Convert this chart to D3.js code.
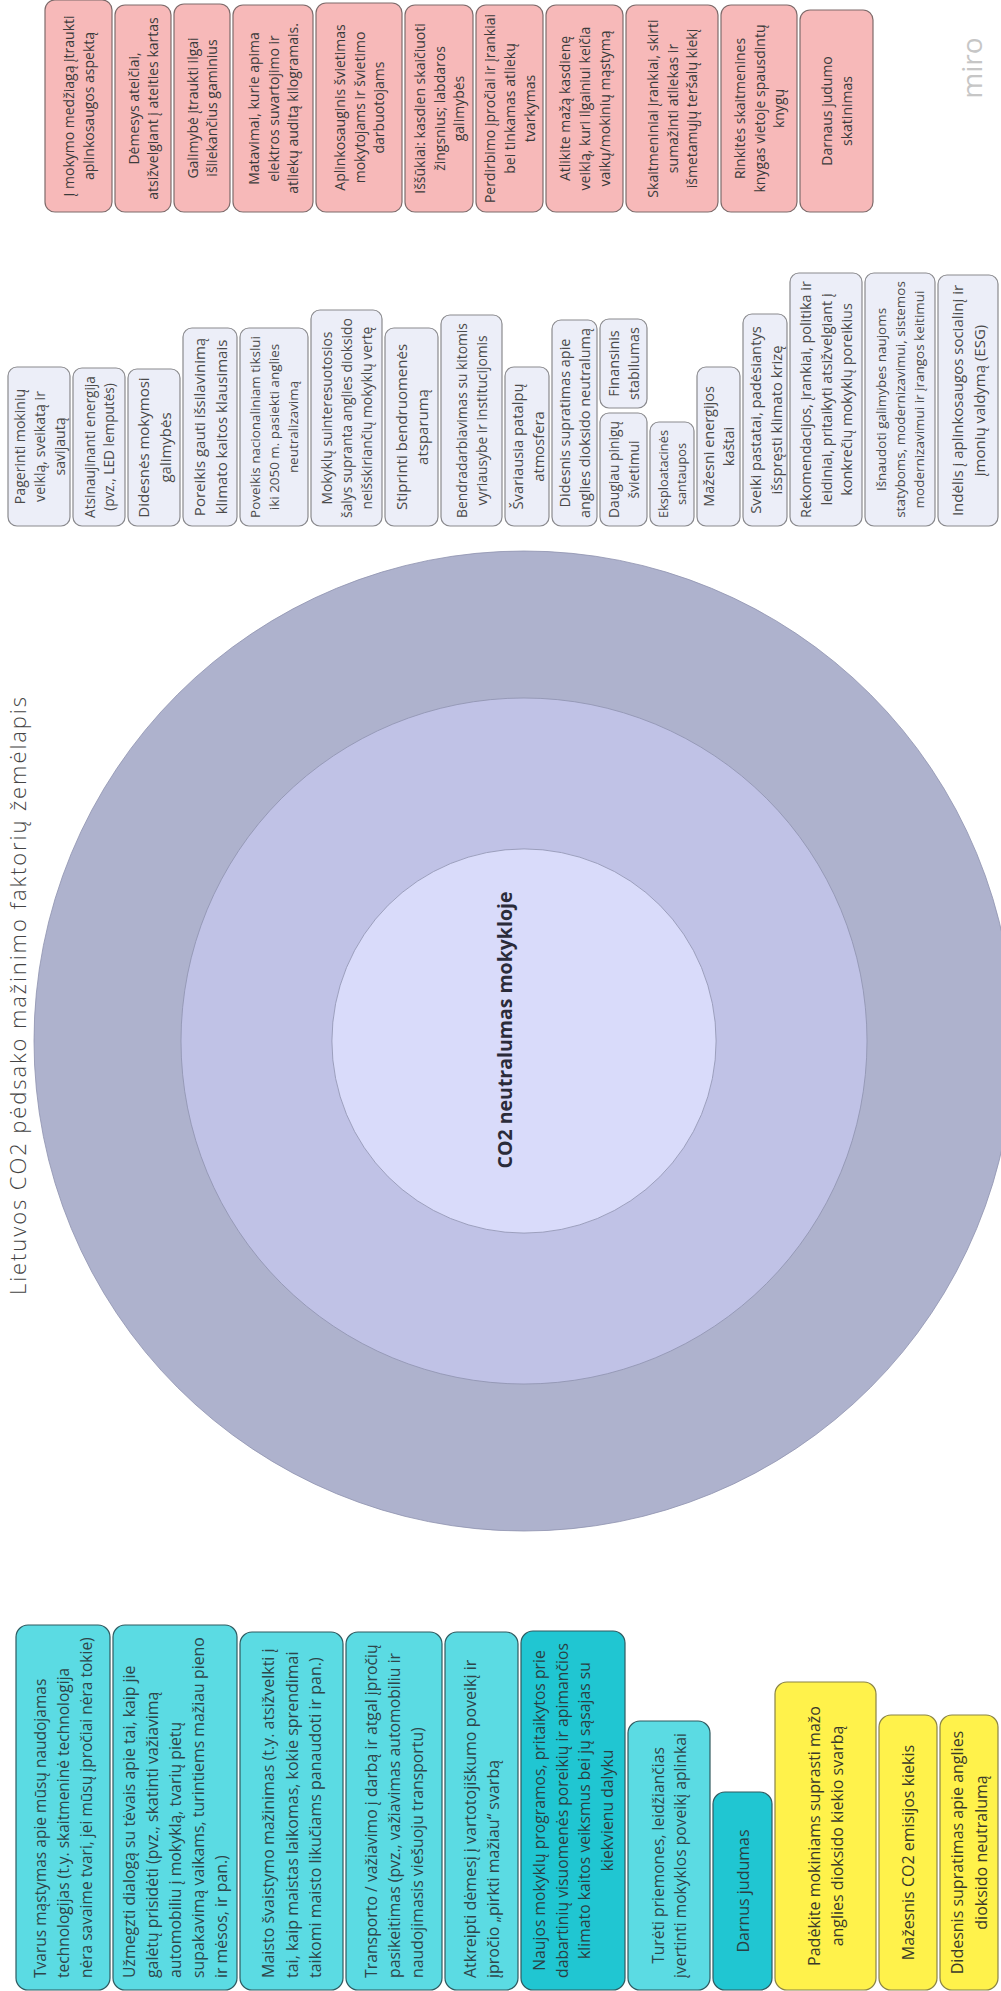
<!DOCTYPE html>
<html><head><meta charset="utf-8">
<script src="https://cdn.jsdelivr.net/npm/d3@7"></script>
<style>html,body{margin:0;padding:0;background:#fff;overflow:hidden}</style>
</head><body>
<svg id="c" width="1001" height="1991"></svg>
<script>
// ---------------- DATA ----------------
const title = "Lietuvos CO2 pėdsako mažinimo faktorių žemėlapis";
const centerLabel = "CO2 neutralumas mokykloje";
const watermark = "miro";

// rings (relative radius, outer -> inner)
const ringNames = ["outer", "middle", "inner"];
const ringRel = [1, 0.70, 0.392];

// top row (pink)
const pinkLabels = [
  "Į mokymo medžiagą įtraukti\naplinkosaugos aspektą",
  "Dėmesys ateičiai,\natsižvelgiant į ateities kartas",
  "Galimybė įtraukti ilgai\nišliekančius gaminius",
  "Matavimai, kurie apima\nelektros suvartojimo ir\natliekų auditą kilogramais.",
  "Aplinkosauginis švietimas\nmokytojams ir švietimo\ndarbuotojams",
  "Iššūkiai: kasdien skaičiuoti\nžingsnius; labdaros\ngalimybės",
  "Perdirbimo įpročiai ir įrankiai\nbei tinkamas atliekų\ntvarkymas",
  "Atlikite mažą kasdienę\nveiklą, kuri ilgainiui keičia\nvaikų/mokinių mąstymą",
  "Skaitmeniniai įrankiai, skirti\nsumažinti atliekas ir\nišmetamųjų teršalų kiekį",
  "Rinkitės skaitmenines\nknygas vietoje spausdintų\nknygų",
  "Darnaus judumo\nskatinimas"
];

// middle row (white); a column may hold two stacked notes (bottom first)
const whiteLabels = [
  ["Pagerinti mokinių\nveiklą, sveikatą ir\nsavijautą"],
  ["Atsinaujinanti energija\n(pvz., LED lemputės)"],
  ["Didesnės mokymosi\ngalimybės"],
  ["Poreikis gauti išsilavinimą\nklimato kaitos klausimais"],
  ["Poveikis nacionaliniam tikslui\niki 2050 m. pasiekti anglies\nneutralizavimą"],
  ["Mokyklų suinteresuotosios\nšalys supranta anglies dioksido\nneišskiriančių mokyklų vertę"],
  ["Stiprinti bendruomenės\natsparumą"],
  ["Bendradarbiavimas su kitomis\nvyriausybe ir institucijomis"],
  ["Švariausia patalpų\natmosfera"],
  ["Didesnis supratimas apie\nanglies dioksido neutralumą"],
  ["Daugiau pinigų\nšvietimui", "Finansinis\nstabilumas"],
  ["Eksploatacinės\nsantaupos"],
  ["Mažesni energijos\nkaštai"],
  ["Sveiki pastatai, padėsiantys\nišspręsti klimato krizę"],
  ["Rekomendacijos, įrankiai, politika ir\nleidiniai, pritaikyti atsižvelgiant į\nkonkrečių mokyklų poreikius"],
  ["Išnaudoti galimybes naujoms\nstatyboms, modernizavimui, sistemos\nmodernizavimui ir įrangos keitimui"],
  ["Indėlis į aplinkosaugos socialinį ir\nįmonių valdymą (ESG)"]
];

// bottom row (cyan / yellow)
const bottomLabels = [
  "Tvarus mąstymas apie mūsų naudojamas\ntechnologijas (t.y. skaitmeninė technologija\nnėra savaime tvari, jei mūsų įpročiai nėra tokie)",
  "Užmegzti dialogą su tėvais apie tai, kaip jie\ngalėtų prisidėti (pvz., skatinti važiavimą\nautomobiliu į mokyklą, tvarių pietų\nsupakavimą vaikams, turintiems mažiau pieno\nir mėsos, ir pan.)",
  "Maisto švaistymo mažinimas (t.y. atsižvelkti į\ntai, kaip maistas laikomas, kokie sprendimai\ntaikomi maisto likučiams panaudoti ir pan.)",
  "Transporto / važiavimo į darbą ir atgal įpročių\npasikeitimas (pvz., važiavimas automobiliu ir\nnaudojimasis viešuoju transportu)",
  "Atkreipti dėmesį į vartotojiškumo poveikį ir\nįpročio „pirkti mažiau“ svarbą",
  "Naujos mokyklų programos, pritaikytos prie\ndabartinių visuomenės poreikių ir apimančios\nklimato kaitos veiksmus bei jų sąsajas su\nkiekvienu dalyku",
  "Turėti priemones, leidžiančias\nįvertinti mokyklos poveikį aplinkai",
  "Darnus judumas",
  "Padėkite mokiniams suprasti mažo\nanglies dioksido kiekio svarbą",
  "Mažesnis CO2 emisijos kiekis",
  "Didesnis supratimas apie anglies\ndioksido neutralumą"
];
const bottomKinds = ["cyan","cyan","cyan","cyan","cyan","teal","cyan","teal","yellow","yellow","yellow"];
const bottomAlign = ["start","start","start","start","start","middle","middle","middle","middle","middle","middle"];

// ---------------- LAYOUT (board geometry) ----------------
const pinkSpan   = [67,56,56,80,86,68,67,77,92,76,73];
const pinkLen    = [212,207,208,207,209,207,207,207,207,207,202];
const whiteSpan  = [62,52,52,54,68,71,53,61,44,45,47,44,43,44,72,70,60];
const whiteLen   = [[159],[158],[157],[198],[198],[216],[198],[211],[159],[206],[113,89],[104],[159],[212],[253],[253],[251]];
const bottomSpan = [94,124,103,96,73,104,82,59,101,58,58];
const bottomLen  = [365,365,358,358,358,359,269,198,308,275,275];

const styles = {
  pink:   {fill:"#f7b9b9", stroke:"#7f6b6b", color:"#3b3b3b", rx:10, maxFs:14, padL:8, padW:2, lh:1.42},
  white:  {fill:"#eceef8", stroke:"#8a8a8e", color:"#4a4a4a", rx:9,  maxFs:15, padL:8, padW:1, lh:1.42},
  cyan:   {fill:"#5bdbe3", stroke:"#2f5a60", color:"#2e464b", rx:12, maxFs:16, padL:12, padW:4, lh:1.45},
  teal:   {fill:"#20c6d2", stroke:"#2f5a60", color:"#2a3f44", rx:12, maxFs:16, padL:12, padW:4, lh:1.45},
  yellow: {fill:"#fff24b", stroke:"#8a8446", color:"#3a3a2a", rx:12, maxFs:16, padL:12, padW:4, lh:1.45}
};

// ---------------- DRAW ----------------
const svg = d3.select("#c");
svg.append("rect").attr("width",1001).attr("height",1991).attr("fill","#fff");

// rings
const center = {x:524, y:1041};
const rScale = d3.scaleLinear().domain([0,1]).range([0,490]);
const ringColor = d3.scaleOrdinal().domain(ringNames).range(["#aeb2cd","#c0c2e6","#d9dbfa"]);
svg.append("g").selectAll("circle").data(ringNames.map((n,i)=>({n, r:ringRel[i]})))
  .join("circle")
  .attr("cx",center.x).attr("cy",center.y)
  .attr("r",d=>rScale(d.r))
  .attr("fill",d=>ringColor(d.n))
  .attr("stroke","#8e92ae").attr("stroke-width",0.8);

// rotated text helper
function rotText(x, y, str, attrs) {
  const t = svg.append("text").attr("transform",`translate(${x},${y}) rotate(-90)`).text(str);
  Object.entries(attrs).forEach(([k,v])=>t.attr(k,v));
  return t;
}

rotText(center.x-12, 1030, centerLabel, {"font-family":"Open Sans","font-weight":700,"font-size":19.5,"text-anchor":"middle","fill":"#2b2b3a"});
rotText(26, 996, title, {"font-family":"Open Sans","font-weight":300,"font-size":22,"text-anchor":"middle","fill":"#444",
  "textLength":598, "lengthAdjust":"spacing"});
rotText(982, 68, watermark, {"font-family":"Open Sans","font-size":28,"text-anchor":"middle","fill":"#c6c6c6"});

// positions along a row by stacking spans
function stack(start, gap, spans) {
  const xs = []; let x = start;
  spans.forEach(s => { xs.push(x); x += s + gap; });
  return xs;
}

function drawNote(b) {
  const st = styles[b.kind];
  const g = svg.append("g");
  g.append("rect").attr("x",b.x).attr("y",b.y).attr("width",b.w).attr("height",b.h)
    .attr("rx",st.rx).attr("ry",st.rx).attr("fill",st.fill).attr("stroke",st.stroke).attr("stroke-width",1.2);
  const lines = b.label.split("\n");
  const tg = g.append("g").attr("transform",`translate(${b.x+b.w/2},${b.y+b.h/2}) rotate(-90)`);
  const texts = tg.selectAll("text").data(lines).join("text")
    .attr("font-family","Open Sans").attr("font-size",10).attr("fill",st.color).text(d=>d);
  let maxLen = 0;
  texts.each(function(){ maxLen = Math.max(maxLen, this.getComputedTextLength()); });
  const L = b.h, Wd = b.w, n = lines.length;
  const fs = Math.min(st.maxFs, (L - 2*st.padL)*10/maxLen, (Wd - 2*st.padW)/(n*st.lh));
  const gapY = st.lh*fs;
  const align = b.align || "middle";
  texts.attr("font-size",fs)
    .attr("text-anchor",align)
    .attr("dominant-baseline","central")
    .attr("x", align==="start" ? -L/2 + st.padL : 0)
    .attr("y",(d,i)=>(i-(n-1)/2)*gapY);
}

// pink row: bottoms aligned at board line 212
const pinkX = stack(45, 3, pinkSpan);
pinkLabels.forEach((lab,i)=>drawNote({x:pinkX[i], y:212-pinkLen[i], w:pinkSpan[i], h:pinkLen[i], label:lab, kind:"pink"}));

// white row: bottoms aligned at 526
const whiteX = stack(8, 3, whiteSpan);
whiteLabels.forEach((col,i)=>{
  let bottom = 526;
  col.forEach((lab,j)=>{
    const h = whiteLen[i][j];
    drawNote({x:whiteX[i], y:bottom-h, w:whiteSpan[i], h, label:lab, kind:"white"});
    bottom = bottom - h - 5;
  });
});

// bottom row: bottoms aligned at 1990
const bottomX = stack(16, 3, bottomSpan);
bottomLabels.forEach((lab,i)=>drawNote({x:bottomX[i], y:1990-bottomLen[i], w:bottomSpan[i], h:bottomLen[i], label:lab, kind:bottomKinds[i], align:bottomAlign[i]}));
</script>
</body></html>
